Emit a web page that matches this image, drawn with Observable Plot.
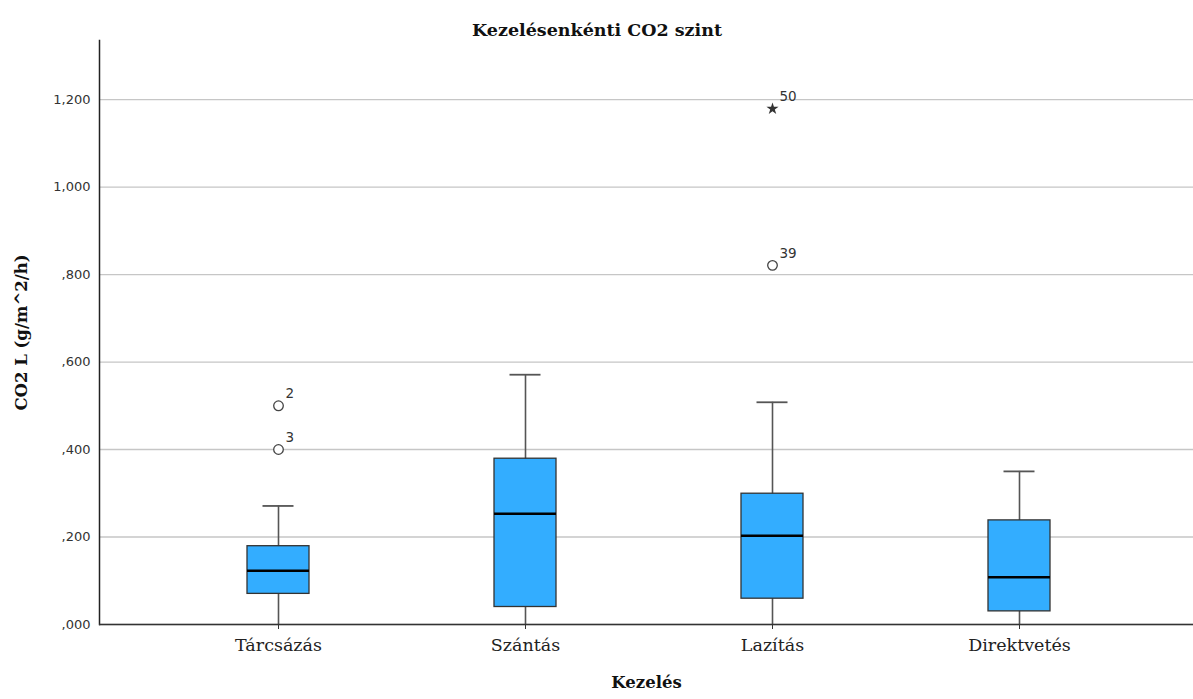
<!DOCTYPE html>
<html>
<head>
<meta charset="utf-8">
<script src="https://cdn.jsdelivr.net/npm/d3@7"></script>
<script src="https://cdn.jsdelivr.net/npm/@observablehq/plot@0.6"></script>
<style>
  html, body { margin: 0; padding: 0; background: #fff; overflow: hidden; }
  #chart svg { display: block; }
</style>
</head>
<body>
<div id="chart"></div>
<script>
// ---- data ----
const categories = ["Tárcsázás", "Szántás", "Lazítás", "Direktvetés"];
const whiskerLow  = [0.000, 0.000, 0.000, 0.000];
const q1          = [0.070, 0.040, 0.059, 0.030];
const median      = [0.123, 0.253, 0.203, 0.108];
const q3          = [0.179, 0.379, 0.299, 0.238];
const whiskerHigh = [0.271, 0.571, 0.508, 0.350];

const outlierCategory = ["Tárcsázás", "Tárcsázás", "Lazítás", "Lazítás"];
const outlierValue    = [0.500, 0.400, 0.821, 1.179];
const outlierLabel    = ["2", "3", "39", "50"];
const outlierSymbol   = ["circle", "circle", "circle", "star"];

const yTicks = [0, 0.2, 0.4, 0.6, 0.8, 1.0, 1.2];

const titleText = "Kezelésenkénti CO2 szint";
const xTitle = "Kezelés";
const yTitle = "CO2 L (g/m^2/h)";

// ---- tables ----
const boxes = categories.map((c, i) => ({
  cat: c, lo: whiskerLow[i], q1: q1[i], med: median[i], q3: q3[i], hi: whiskerHigh[i]
}));
const outliers = outlierCategory.map((c, i) => ({
  cat: c, value: outlierValue[i], label: outlierLabel[i], symbol: outlierSymbol[i]
}));

const fmt = d => d3.format(".3f")(d).replace(/^0\./, ",").replace(".", ",");

const serif = "'DejaVu Serif', serif";
const sans = "'DejaVu Sans', sans-serif";

const chart = Plot.plot({
  width: 1193,
  height: 699,
  marginTop: 40,
  marginBottom: 75,
  marginLeft: 99,
  marginRight: 0,
  style: { background: "#fff", fontFamily: sans, color: "#222" },
  x: { type: "band", domain: categories, paddingInner: 0.749, paddingOuter: 0.589, align: 0.51, label: null },
  y: { domain: [0, 1.335], label: null },
  marks: [
    Plot.gridY(yTicks, { stroke: "#c6c6c6", strokeOpacity: 1, strokeWidth: 1.3 }),
    Plot.frame({ anchor: "left", stroke: "#222", strokeWidth: 1.5 }),
    Plot.axisY(yTicks, { tickSize: 0, tickPadding: 9, tickFormat: fmt, fontSize: 13, fontFamily: sans, fill: "#333", label: null }),
    Plot.axisX({ tickSize: 5, tickPadding: 9, fontSize: 17.5, fontFamily: serif, fill: "#222", stroke: "#333", label: null }),
    // whiskers
    Plot.ruleX(boxes, { x: "cat", y1: "lo", y2: "hi", stroke: "#555", strokeWidth: 1.6 }),
    Plot.tickY(boxes, { x: "cat", y: "hi", stroke: "#555", strokeWidth: 1.8, insetLeft: 15.5, insetRight: 15.5 }),
    // boxes
    Plot.barY(boxes, { x: "cat", y1: "q1", y2: "q3", fill: "#33adff", stroke: "#333", strokeWidth: 1.3 }),
    Plot.tickY(boxes, { x: "cat", y: "med", stroke: "#000", strokeWidth: 2.6 }),
    // bottom axis line
    Plot.ruleY([0], { stroke: "#333", strokeWidth: 1.5 }),
    // outliers
    Plot.dot(outliers, { filter: d => d.symbol === "circle", x: "cat", y: "value", symbol: "circle", r: 4.8, fill: "#fff", stroke: "#444", strokeWidth: 1.3 }),
    Plot.dot(outliers, { filter: d => d.symbol === "star", x: "cat", y: "value", symbol: "star", r: 3.8, fill: "#333", stroke: "none" }),
    Plot.text(outliers, { x: "cat", y: "value", text: "label", dx: 7, dy: -12, textAnchor: "start", fontSize: 13.5, fontFamily: sans, fill: "#333" }),
    // titles
    Plot.text([titleText], { frameAnchor: "top", textAnchor: "middle", dx: -49.5, dy: -17, fontSize: 17.5, fontWeight: "bold", fontFamily: serif, fill: "#111" }),
    Plot.text([xTitle], { frameAnchor: "bottom", textAnchor: "middle", dy: 63, fontSize: 16.5, fontWeight: "bold", fontFamily: serif, fill: "#111" }),
    Plot.text([yTitle], { frameAnchor: "left", textAnchor: "middle", dx: -78, rotate: -90, fontSize: 16.5, fontWeight: "bold", fontFamily: serif, fill: "#111" })
  ]
});
document.getElementById("chart").appendChild(chart);
</script>
</body>
</html>
